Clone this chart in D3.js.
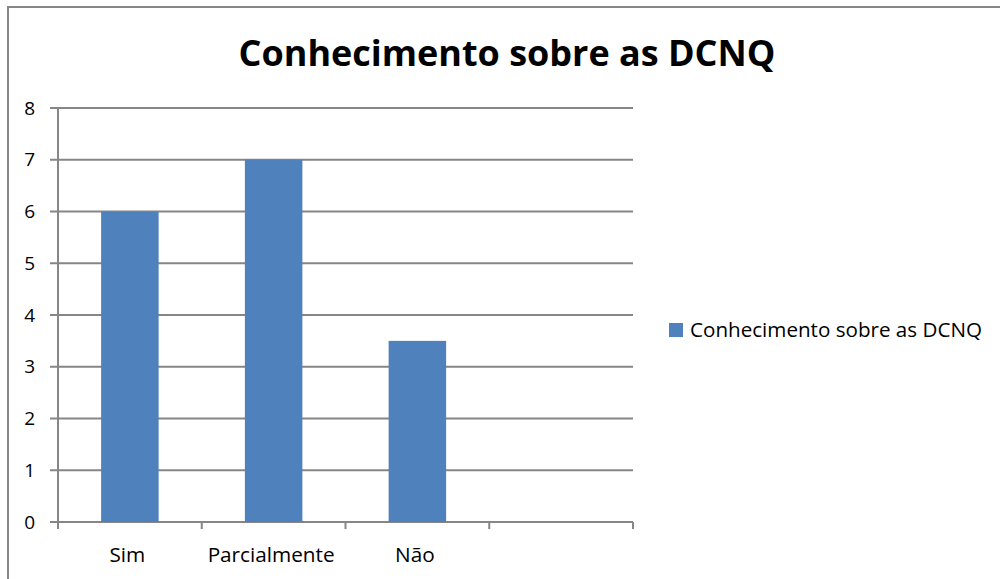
<!DOCTYPE html>
<html>
<head>
<meta charset="utf-8">
<script src="https://cdn.jsdelivr.net/npm/d3@7"></script>
<style>
  body { margin: 0; background: #fff; }
  svg { display: block; font-family: "Open Sans", Lato, sans-serif; }
</style>
</head>
<body>
<svg width="1000" height="579"></svg>
<script>
// chart data
const categories = ["Sim", "Parcialmente", "Não", ""];
const values = [6, 7, 3.5, null];
const yTicks = [0, 1, 2, 3, 4, 5, 6, 7, 8];
const seriesName = "Conhecimento sobre as DCNQ";
const title = "Conhecimento sobre as DCNQ";

let svg = d3.select("svg");

// shrink/grow a text node's font so it spans the width seen in the picture
function fitWidth(sel, target) {
  let node = sel.node();
  let fs = +sel.attr("font-size");
  let w = node.getComputedTextLength();
  if (w > 0) sel.attr("font-size", (fs * target / w).toFixed(2));
  return sel;
}

// outer chart border
svg.append("rect")
  .attr("x", 8).attr("y", 7)
  .attr("width", 1010).attr("height", 600)
  .attr("fill", "none")
  .attr("stroke", "#868686")
  .attr("stroke-width", 2);

let x = d3.scaleBand()
  .domain(categories.map((c, i) => i))
  .range([58, 633]);

let y = d3.scaleLinear()
  .domain([0, 8])
  .range([522, 108]);

// gridlines
svg.append("g")
  .selectAll("line")
  .data(yTicks)
  .enter().append("line")
    .attr("x1", 50).attr("x2", 633)
    .attr("y1", d => y(d)).attr("y2", d => y(d))
    .attr("stroke", "#868686")
    .attr("stroke-width", 2);

// y axis line
svg.append("line")
  .attr("x1", 58).attr("x2", 58)
  .attr("y1", y(8)).attr("y2", y(0))
  .attr("stroke", "#868686")
  .attr("stroke-width", 2);

// y labels
svg.append("g")
  .selectAll("text")
  .data(yTicks)
  .enter().append("text")
    .attr("x", 35)
    .attr("y", d => y(d) + 6.5)
    .attr("text-anchor", "end")
    .attr("font-size", 19)
    .attr("fill", "#000")
    .text(d => d);

// x tick marks at band edges
let edges = categories.map((c, i) => x(i)).concat([x.range()[1]]);
svg.append("g")
  .selectAll("line")
  .data(edges)
  .enter().append("line")
    .attr("x1", d => d).attr("x2", d => d)
    .attr("y1", y(0)).attr("y2", y(0) + 7)
    .attr("stroke", "#868686")
    .attr("stroke-width", 2);

// bars
let barW = x.bandwidth() * 0.4;
svg.append("g")
  .selectAll("rect")
  .data(values.map((v, i) => ({v: v, i: i})).filter(d => d.v != null))
  .enter().append("rect")
    .attr("x", d => x(d.i) + (x.bandwidth() - barW) / 2)
    .attr("width", barW)
    .attr("y", d => y(d.v))
    .attr("height", d => y(0) - y(d.v))
    .attr("fill", "#4f81bd");

// x labels
let xl = svg.append("g")
  .selectAll("text")
  .data(categories)
  .enter().append("text")
    .attr("x", (d, i) => x(i) + x.bandwidth() / 2 - 2.5)
    .attr("y", 562)
    .attr("text-anchor", "middle")
    .attr("font-size", 18)
    .attr("fill", "#000")
    .text(d => d);
// "Parcialmente" spans about 127px in the reference
let pw = xl.filter((d, i) => i === 1).node().getComputedTextLength();
xl.attr("font-size", (18 * 127 / pw).toFixed(2));

// title
fitWidth(svg.append("text")
  .attr("x", 507)
  .attr("y", 66)
  .attr("text-anchor", "middle")
  .attr("font-size", 34)
  .attr("font-weight", "bold")
  .attr("fill", "#000")
  .text(title), 537);

// legend
svg.append("rect")
  .attr("x", 669).attr("y", 323)
  .attr("width", 14).attr("height", 14)
  .attr("fill", "#4f81bd");
fitWidth(svg.append("text")
  .attr("x", 690).attr("y", 337)
  .attr("font-size", 18)
  .attr("fill", "#000")
  .text(seriesName), 292);
</script>
</body>
</html>
